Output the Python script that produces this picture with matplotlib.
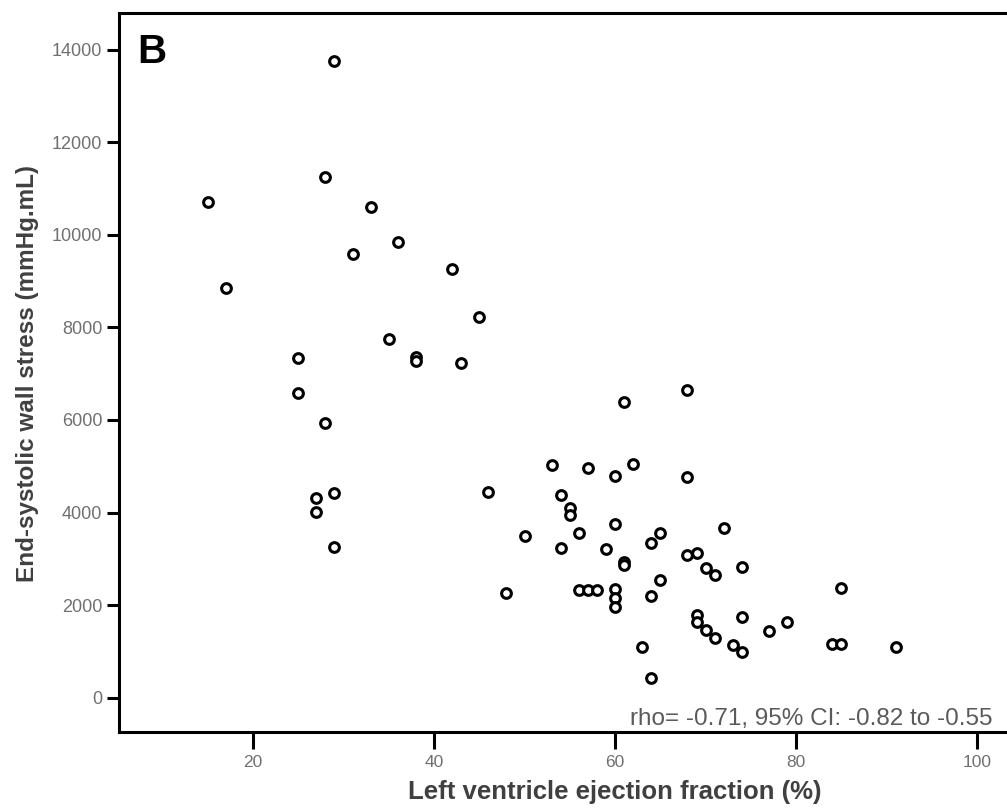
import matplotlib
matplotlib.use("Agg")
import matplotlib.pyplot as plt

# Left ventricle ejection fraction (%) and end-systolic wall stress (mmHg.mL)
lvef = [29, 15, 28, 33, 36, 31, 42, 17, 45, 35, 38, 38, 43, 25, 25,
        28, 29, 27, 27, 29, 46, 50, 48,
        68, 61, 53, 57, 60, 62, 68, 54, 55, 55, 60, 56, 54, 59, 65, 64,
        72, 61, 61, 68, 69, 70, 71, 74, 65, 64, 56, 57, 58, 60, 60, 60,
        69, 69, 70, 71, 74, 77, 79, 73, 74, 85, 84, 85, 91, 63, 64]
wall_stress = [13750, 10700, 11250, 10590, 9840, 9590, 9260, 8850, 8220, 7750,
               7350, 7280, 7230, 7340, 6580,
               5930, 4420, 4310, 4010, 3250, 4440, 3490, 2260,
               6640, 6390, 5030, 4960, 4790, 5040, 4760, 4380, 4100, 3950,
               3750, 3560, 3230, 3210, 3560, 3340,
               3670, 2930, 2870, 3080, 3130, 2800, 2650, 2820, 2540, 2200,
               2330, 2330, 2330, 2350, 2150, 1960,
               1780, 1630, 1460, 1290, 1740, 1440, 1630, 1130, 990,
               2370, 1160, 1160, 1100, 1100, 430]

x_ticks = [20, 40, 60, 80, 100]
y_ticks = [0, 2000, 4000, 6000, 8000, 10000, 12000, 14000]

panel_label = "B"
x_label = "Left ventricle ejection fraction (%)"
y_label = "End-systolic wall stress (mmHg.mL)"
stats_text = "rho= -0.71, 95% CI: -0.82 to -0.55"

plt.rcParams["font.family"] = ["Liberation Sans", "DejaVu Sans"]

W, H = 1007, 811
fig = plt.figure(figsize=(W / 100, H / 100), dpi=100)
left, right, bottom, top = 119, 1007, 731.7, 12.7
ax = fig.add_axes([left / W, (H - bottom) / H, (right - left) / W, (bottom - top) / H])

ax.plot(lvef, wall_stress, linestyle="none", marker="o", markersize=7.0,
        markerfacecolor="white", markeredgecolor="black", markeredgewidth=2.2,
        clip_on=False, zorder=3)

ax.set_xlim(5.2, 103.3)
ax.set_ylim(-734, 14796)
ax.set_xticks(x_ticks)
ax.set_yticks(y_ticks)
ax.set_xticklabels([str(t) for t in x_ticks])
ax.set_yticklabels([str(t) for t in y_ticks])

for side in ("left", "bottom", "top"):
    ax.spines[side].set_linewidth(2.2)
    ax.spines[side].set_color("black")
ax.spines["right"].set_visible(False)

ax.tick_params(axis="y", direction="out", length=9, width=2.2, pad=3,
               labelsize=13, labelcolor="#707070")
ax.tick_params(axis="x", direction="out", length=12, width=2.2, pad=5,
               labelsize=12.5, labelcolor="#707070")

# Axis titles, positioned in figure coordinates
ax.set_xlabel(x_label, fontsize=18.5, fontweight="bold", color="#404040")
ax.xaxis.set_label_coords(615 / W, 1 - 792 / H, transform=fig.transFigure)
ax.xaxis.label.set_va("center")
ax.set_ylabel(y_label, fontsize=17.5, fontweight="bold", color="#404040")
ax.yaxis.set_label_coords(28 / W, 1 - 373 / H, transform=fig.transFigure)
ax.yaxis.label.set_va("center")

fig.text(137 / W, 1 - 33 / H, panel_label, fontsize=29, fontweight="bold",
         color="black", ha="left", va="top")
fig.text(992 / W, 1 - 725 / H, stats_text, fontsize=17.5, color="#5a5a5a",
         ha="right", va="baseline")

fig.savefig("out.png", dpi=100)
